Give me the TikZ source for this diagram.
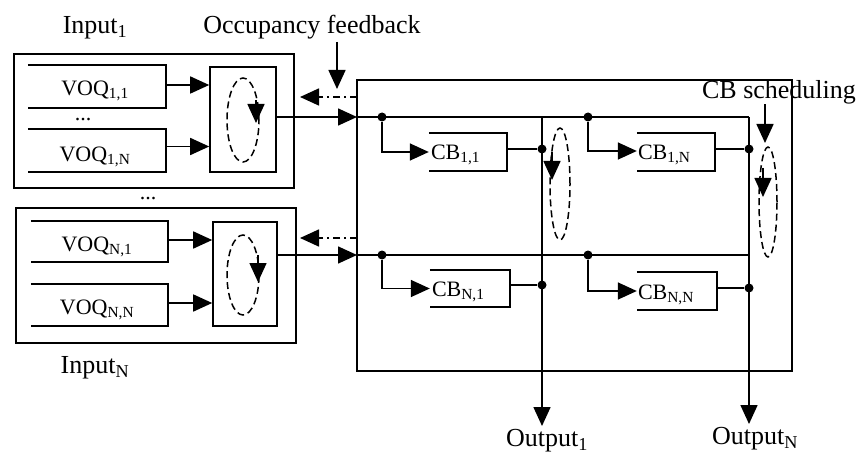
\documentclass[tikz,border=0pt]{standalone}
\usepackage{fontspec}
\setmainfont{Liberation Serif}
\usetikzlibrary{arrows.meta,shapes.geometric}
\begin{document}
\begin{tikzpicture}[x=1pt,y=-1pt,
  lw/.style={line width=1.6pt},
  box/.style={draw,line width=1.6pt,inner sep=0pt},
  ghost/.style={inner sep=0pt},
  arr/.style={line width=1.6pt,-{Triangle[length=19pt,width=17pt]}},
  fb/.style={line width=1.6pt,dash pattern=on 7pt off 4pt on 2pt off 4pt,-{Triangle[length=19pt,width=17pt]}},
  dotn/.style={circle,fill,inner sep=0pt,minimum size=9pt},
  ell/.style={ellipse,draw,dash pattern=on 7pt off 4pt,line width=1.5pt,inner sep=0pt},
  txt/.style={font=\fontsize{22}{24}\selectfont,inner sep=0pt},
  big/.style={font=\fontsize{26}{28}\selectfont,inner sep=0pt},
]
\useasboundingbox (0,0) rectangle (856,457);

% ---------- Input 1 ----------
\node[big] (lin1) at (95,28) {Input\textsubscript{1}};
\node[box,minimum width=280pt,minimum height=134pt] (in1) at (154,121) {};
\node[ghost,minimum width=138pt,minimum height=43pt] (v11) at (97,86.5) {};
\draw[lw] (v11.north west) -- (v11.north east) -- (v11.south east) -- (v11.south west);
\node[txt] (tv11) at (95,91) {VOQ\textsubscript{1,1}};
\node[txt] (dd1) at (83,120) {...};
\node[ghost,minimum width=138pt,minimum height=43pt] (v1n) at (97,150.5) {};
\draw[lw] (v1n.north west) -- (v1n.north east) -- (v1n.south east) -- (v1n.south west);
\node[txt] (tv1n) at (95,157) {VOQ\textsubscript{1,N}};
\node[box,minimum width=66pt,minimum height=105pt] (s1) at (243,119.5) {};
\node[ell,minimum width=32pt,minimum height=84pt] (e1) at (243,120) {};
\coordinate (e1a) at (256,100);
\coordinate (e1b) at (256,123);
\draw[arr] (e1a) -- (e1b);
\draw[arr] ([yshift=1.5pt]v11.east) -- ([yshift=1.5pt]v11.east -| s1.west);
\draw[arr] ([yshift=4pt]v1n.east) -- ([yshift=4pt]v1n.east -| s1.west);

\node[txt] (dd2) at (148,199) {...};

% ---------- Input N ----------
\node[box,minimum width=280pt,minimum height=135pt] (inn) at (156,275.5) {};
\node[ghost,minimum width=137pt,minimum height=41pt] (vn1) at (99.5,241.5) {};
\draw[lw] (vn1.north west) -- (vn1.north east) -- (vn1.south east) -- (vn1.south west);
\node[txt] (tvn1) at (97,247) {VOQ\textsubscript{N,1}};
\node[ghost,minimum width=137pt,minimum height=42pt] (vnn) at (99.5,305) {};
\draw[lw] (vnn.north west) -- (vnn.north east) -- (vnn.south east) -- (vnn.south west);
\node[txt] (tvnn) at (97,310) {VOQ\textsubscript{N,N}};
\node[box,minimum width=64pt,minimum height=104pt] (sn) at (245,274) {};
\node[ell,minimum width=32pt,minimum height=80pt] (en) at (243,275) {};
\coordinate (ena) at (258,255);
\coordinate (enb) at (258,282);
\draw[arr] (ena) -- (enb);
\draw[arr] ([yshift=1.5pt]vn1.east) -- ([yshift=1.5pt]vn1.east -| sn.west);
\draw[arr] ([yshift=2pt]vnn.east) -- ([yshift=2pt]vnn.east -| sn.west);
\node[big] (linn) at (95,368) {Input\textsubscript{N}};

% ---------- switch fabric ----------
\node[box,minimum width=435pt,minimum height=291pt] (sw) at (574.5,225.5) {};
\coordinate (b1w) at (357,117);
\coordinate (b1e) at (749,117);
\coordinate (b2w) at (357,255);
\coordinate (b2e) at (749,255);
\draw[arr] (s1.east |- b1w) -- (b1w);
\draw[arr] (sn.east |- b2w) -- (b2w);
\coordinate (f1s) at (357,97);
\coordinate (f1e) at (300,97);
\coordinate (f2s) at (357,238);
\coordinate (f2e) at (300,238);
\draw[fb] (f1s) -- (f1e);
\draw[fb] (f2s) -- (f2e);
\node[big] (occ) at (312,27) {Occupancy feedback};
\coordinate (occa) at (337,42);
\coordinate (occb) at (337,89);
\draw[arr] (occa) -- (occb);

\draw[lw] (b1w) -- (b1e);
\draw[lw] (b2w) -- (b2e);

% CB boxes
\node[ghost,minimum width=78pt,minimum height=38pt] (cb11) at (468,152) {};
\draw[lw] (cb11.north west) -- (cb11.north east) -- (cb11.south east) -- (cb11.south west);
\node[txt,anchor=west] (tcb11) at ([xshift=2pt,yshift=-3pt]cb11.west) {CB\textsubscript{1,1}};
\node[ghost,minimum width=78pt,minimum height=38pt] (cb1n) at (676,152) {};
\draw[lw] (cb1n.north west) -- (cb1n.north east) -- (cb1n.south east) -- (cb1n.south west);
\node[txt,anchor=west] (tcb1n) at ([xshift=1pt,yshift=-3pt]cb1n.west) {CB\textsubscript{1,N}};
\node[ghost,minimum width=80pt,minimum height=37pt] (cbn1) at (470,288.5) {};
\draw[lw] (cbn1.north west) -- (cbn1.north east) -- (cbn1.south east) -- (cbn1.south west);
\node[txt,anchor=west] (tcbn1) at ([xshift=2pt,yshift=-3pt]cbn1.west) {CB\textsubscript{N,1}};
\node[ghost,minimum width=80pt,minimum height=38pt] (cbnn) at (677,291) {};
\draw[lw] (cbnn.north west) -- (cbnn.north east) -- (cbnn.south east) -- (cbnn.south west);
\node[txt,anchor=west] (tcbnn) at ([xshift=1pt,yshift=-4pt]cbnn.west) {CB\textsubscript{N,N}};

% junctions on buses
\node[dotn] (j11) at (382,117) {};
\node[dotn] (j12) at (588,117) {};
\node[dotn] (j21) at (382,255) {};
\node[dotn] (j22) at (588,255) {};
\draw[arr] (j11) |- ([yshift=0pt]cb11.west);
\draw[arr] (j12) |- ([yshift=1pt]cb1n.west);
\draw[arr] (j21) |- ([yshift=0pt]cbn1.west);
\draw[arr] (j22) |- ([yshift=0pt]cbnn.west);

% output columns
\coordinate (c1t) at (542,117);
\coordinate (c1b) at (542,426);
\coordinate (c2t) at (749,117);
\coordinate (c2b) at (749,424);
\draw[arr] (c1t) -- (c1b);
\draw[arr] (c2t) -- (c2b);
\node[dotn] (o11) at (542,149) {};
\node[dotn] (o1n) at (749,149) {};
\node[dotn] (on1) at (542,285) {};
\node[dotn] (onn) at (749,288) {};
\draw[lw] ([yshift=3pt]cb11.east) -- (o11);
\draw[lw] ([yshift=3pt]cb1n.east) -- (o1n);
\draw[lw] ([yshift=3.5pt]cbn1.east) -- (on1);
\draw[lw] ([yshift=3pt]cbnn.east) -- (onn);

% column schedulers
\node[ell,minimum width=20pt,minimum height=112pt] (ec1) at (560,184) {};
\coordinate (ec1a) at (552,152);
\coordinate (ec1b) at (552,180);
\draw[arr] (ec1a) -- (ec1b);
\node[ell,minimum width=18pt,minimum height=110pt] (ec2) at (768,202) {};
\coordinate (ec2a) at (763,168);
\coordinate (ec2b) at (763,197);
\draw[arr] (ec2a) -- (ec2b);
\node[big] (cbs) at (779,92) {CB scheduling};
\coordinate (cbsb) at (765,143);
\draw[arr] (cbs.south -| cbsb) -- (cbsb);

\node[big] (out1) at (547,441) {Output\textsubscript{1}};
\node[big] (outn) at (755,439) {Output\textsubscript{N}};
\end{tikzpicture}
\end{document}
